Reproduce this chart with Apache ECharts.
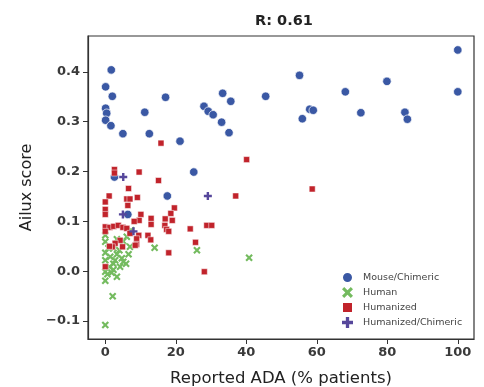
<!DOCTYPE html>
<html><head><meta charset="utf-8">
<script src="https://cdn.jsdelivr.net/npm/echarts@6/dist/echarts.min.js"></script>
<style>html,body{margin:0;padding:0;background:#fff}#c{width:484px;height:387px}</style>
</head><body><div id="c"></div>
<script>
const titleText = 'R: 0.61';
const xTicks = [0, 20, 40, 60, 80, 100];
const yTicks = [-0.1, 0.0, 0.1, 0.2, 0.3, 0.4];
const seriesNames = ['Mouse/Chimeric', 'Human', 'Humanized', 'Humanized/Chimeric'];

const mouseX = [1.7,0.1,2.0,0.1,0.4,0.1,1.6,5.0,11.2,12.5,17.1,21.2,25.1,28.0,29.2,30.6,33.3,35.6,33.0,35.1,45.5,55.1,68.1,79.9,58.0,59.0,55.9,72.5,85.0,85.7,100,100,17.6,2.6,6.4];
const mouseY = [0.404,0.370,0.351,0.327,0.317,0.303,0.292,0.276,0.319,0.276,0.349,0.261,0.199,0.331,0.321,0.314,0.357,0.341,0.299,0.278,0.351,0.393,0.360,0.381,0.325,0.323,0.306,0.318,0.319,0.305,0.444,0.360,0.151,0.189,0.114];

const humanX = [14.0,26.0,40.8,2.1,0.0,0,3.3,5.1,7.3,7.0,0,1.4,3.3,4.7,0,2.3,5.9,0,1.8,3.3,0,1.2,4.2,5.1,0.9,4.0,2.3,6.1,0,2.3,0.6,6.6,2.8];
const humanY = [0.047,0.042,0.027,-0.050,-0.108,0.059,0.064,0.060,0.082,0.049,0.037,0.029,0.034,0.026,0.022,0.015,0.015,-0.001,-0.003,-0.011,-0.019,0.009,0.009,0.019,0.046,0.042,0.046,0.069,0.072,0.003,-0.006,0.034,0.022];

const humanizedX = [15.8,40.1,2.6,2.6,9.6,15.1,6.6,1.1,6.1,7.0,9.1,37.0,0.0,6.4,0,0,19.6,18.6,10.1,13.0,17.0,9.6,8.2,19.0,13.0,16.9,28.8,30.2,17.4,24.1,18.0,0,1.3,2.4,3.7,5.0,0,6.1,7.0,9.5,8.9,12.1,12.9,25.6,8.9,8.5,4.2,2.8,2.0,4.9,1.2,18.0,28.1,0,58.7];
const humanizedY = [0.257,0.224,0.204,0.197,0.199,0.182,0.166,0.151,0.145,0.145,0.148,0.151,0.139,0.132,0.124,0.114,0.127,0.116,0.114,0.106,0.105,0.102,0.100,0.102,0.094,0.092,0.092,0.092,0.084,0.085,0.080,0.089,0.088,0.090,0.092,0.088,0.080,0.086,0.076,0.072,0.065,0.072,0.063,0.058,0.054,0.052,0.062,0.056,0.049,0.049,0.050,0.037,-0.001,0.009,0.165];

const hcX = [5.1,29.1,8.0,5.0];
const hcY = [0.189,0.151,0.080,0.114];

const colors = ['#3a58a4', '#74bb5f', '#c1232b', '#56479b'];
const xPath = 'path://M2,0 L5,3 L8,0 L10,2 L7,5 L10,8 L8,10 L5,7 L2,10 L0,8 L3,5 L0,2 Z';
const plusPath = 'path://M3.5,0 L6.5,0 L6.5,3.5 L10,3.5 L10,6.5 L6.5,6.5 L6.5,10 L3.5,10 L3.5,6.5 L0,6.5 L0,3.5 L3.5,3.5 Z';

function pairs(xs, ys) { return xs.map((x, i) => [x, ys[i]]); }

const fmtY = v => { const s = Math.abs(v).toFixed(1); return v < -1e-9 ? '\u2212' + s : s; };

const chart = echarts.init(document.getElementById('c'), null, {renderer: 'canvas'});
chart.setOption({
  animation: false,
  backgroundColor: '#fff',
  title: {text: titleText, left: 279, top: 9, textAlign: 'center',
    textStyle: {fontFamily: 'DejaVu Sans', fontSize: 14.5, fontWeight: 'bold', color: '#222'}},
  grid: {left: 88, right: 10, top: 36, bottom: 48, show: true, borderColor: '#333', borderWidth: 1.2, backgroundColor: '#fff', outerBoundsMode: 'none', containLabel: false},
  legend: {
    orient: 'vertical', left: 336, top: 266, itemWidth: 11, itemHeight: 11, itemGap: 3,
    data: seriesNames,
    textStyle: {fontFamily: 'DejaVu Sans', fontSize: 9.5, color: '#444', padding: [0, 0, 0, 5]}
  },
  xAxis: {
    type: 'value', min: -4.9, max: 104.6,
    name: 'Reported ADA (% patients)', nameLocation: 'middle', nameGap: 31,
    nameTextStyle: {fontFamily: 'DejaVu Sans', fontSize: 16.5, color: '#222'},
    splitLine: {show: false},
    axisLine: {show: true, onZero: false, lineStyle: {color: '#333', width: 1.2}},
    axisTick: {show: true, length: 5, customValues: xTicks, lineStyle: {color: '#333'}},
    axisLabel: {customValues: xTicks, fontFamily: 'DejaVu Sans', fontSize: 13, fontWeight: 'bold', color: '#3a3a3a', margin: 7}
  },
  yAxis: {
    type: 'value', min: -0.136, max: 0.472,
    name: 'Ailux score', nameLocation: 'middle', nameGap: 51,
    nameTextStyle: {fontFamily: 'DejaVu Sans', fontSize: 16, color: '#222'},
    splitLine: {show: false},
    axisLine: {show: true, onZero: false, lineStyle: {color: '#333', width: 1.2}},
    axisTick: {show: true, length: 5, customValues: yTicks, lineStyle: {color: '#333'}},
    axisLabel: {customValues: yTicks, formatter: fmtY, fontFamily: 'DejaVu Sans', fontSize: 13, fontWeight: 'bold', color: '#3a3a3a', margin: 8}
  },
  series: [
    {name: seriesNames[0], type: 'scatter', data: pairs(mouseX, mouseY), symbol: 'circle', symbolSize: 8.5,
      itemStyle: {color: colors[0], opacity: 1, borderColor: '#fff', borderWidth: 0.7}},
    {name: seriesNames[1], type: 'scatter', data: pairs(humanX, humanY), symbol: xPath, symbolSize: 7.5,
      itemStyle: {color: colors[1], opacity: 1}},
    {name: seriesNames[2], type: 'scatter', data: pairs(humanizedX, humanizedY), symbol: 'rect', symbolSize: 6,
      itemStyle: {color: colors[2], opacity: 1, borderColor: '#fff', borderWidth: 0.5}},
    {name: seriesNames[3], type: 'scatter', data: pairs(hcX, hcY), symbol: plusPath, symbolSize: 8,
      itemStyle: {color: colors[3], opacity: 1}}
  ]
});
</script></body></html>
